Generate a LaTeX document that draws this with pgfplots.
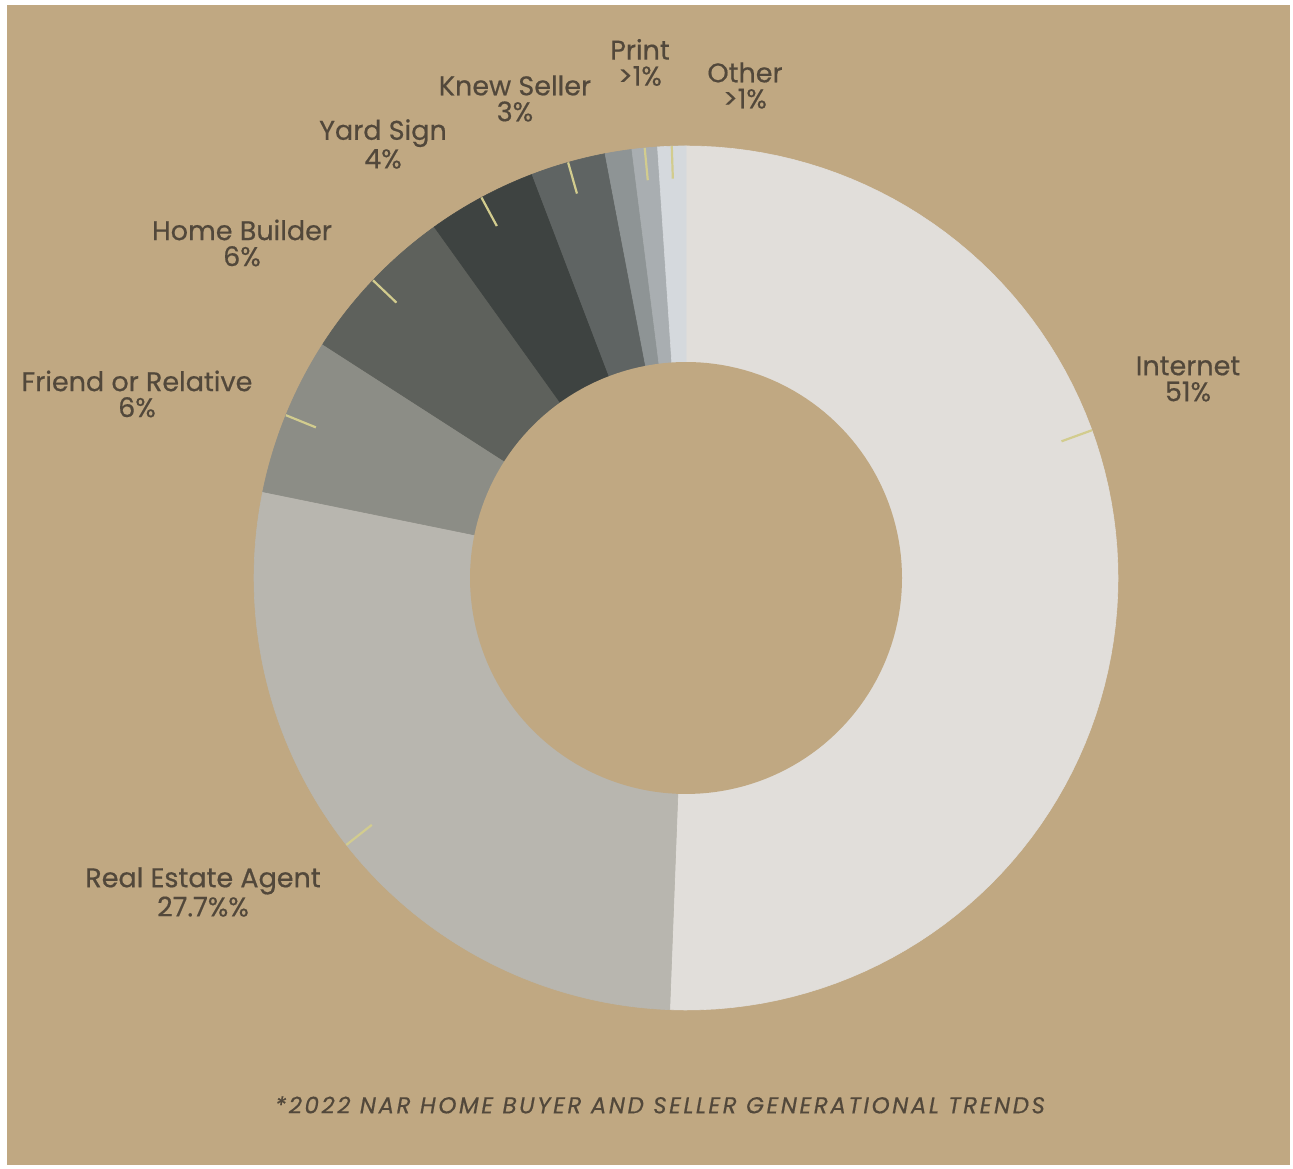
\documentclass[border=0pt]{standalone}
\usepackage{pgfplots}
\pgfplotsset{compat=1.18}
\usepackage{fontspec}
\setmainfont{Poppins}
\newfontfamily\labfont{Poppins}[FakeBold=0.5]
\definecolor{bg}{HTML}{C0A882}
\definecolor{txt}{HTML}{52483B}
\definecolor{tickc}{HTML}{D2CC8E}
\definecolor{c1}{HTML}{E1DEDA}
\definecolor{c2}{HTML}{B8B6AF}
\definecolor{c3}{HTML}{8C8D86}
\definecolor{c4}{HTML}{5E615C}
\definecolor{c5}{HTML}{3E4341}
\definecolor{c6}{HTML}{5F6463}
\definecolor{c7}{HTML}{8E9495}
\definecolor{c8}{HTML}{A9AEB1}
\definecolor{c9}{HTML}{D5D9DD}
% shares (percent), clockwise from the top:
% Internet, Real Estate Agent, Friend or Relative, Home Builder, Yard Sign, Knew Seller, (unlabelled), Print, Other
\def\vals{50.6,27.6,5.9,6.0,4.1,2.8,1.0,0.95,1.05}
\xdef\cum{90}
\foreach \v [count=\i] in \vals {%
  \pgfmathsetmacro\e{\cum-3.6*\v}%
  \pgfmathsetmacro\m{(\cum+\e)/2}%
  \expandafter\xdef\csname s\i\endcsname{\cum}%
  \expandafter\xdef\csname e\i\endcsname{\e}%
  \expandafter\xdef\csname m\i\endcsname{\m}%
  \xdef\cum{\e}%
}
\newcommand\slice[2]{\addplot[fill=#2, draw=#2, line width=0.3pt, domain=\csname e#1\endcsname:\csname s#1\endcsname, samples=90, variable=\t] ({686+432*cos(\t)},{591+432*sin(\t)}) -- (axis cs:686,591) -- cycle;}
\newcommand\tick[1]{\addplot[draw=tickc, line width=1.1pt, domain=0.925:1, samples=2, variable=\r] ({686+432*\r*cos(#1)},{591+432*\r*sin(#1)});}
\tikzset{lab/.style={text=txt, align=center, inner sep=0pt, font=\labfont\fontsize{13.5}{13}\selectfont}}
\begin{document}
\begin{tikzpicture}
\begin{axis}[width=646.5pt, height=584.5pt, scale only axis, hide axis,
  xmin=0, xmax=1293, ymin=0, ymax=1169, clip=false]
\addplot[fill=white, draw=none] coordinates {(0,0) (1293,0) (1293,1169) (0,1169)} -- cycle;
\addplot[fill=bg, draw=none] coordinates {(7,4) (1290,4) (1290,1164) (7,1164)} -- cycle;
\slice{1}{c1}
\slice{2}{c2}
\slice{3}{c3}
\slice{4}{c4}
\slice{5}{c5}
\slice{6}{c6}
\slice{7}{c7}
\slice{8}{c8}
\slice{9}{c9}
\addplot[fill=bg, draw=none, domain=0:360, samples=180, variable=\t] ({686+216*cos(\t)},{591+216*sin(\t)}) -- cycle;
\tick{20}
\tick{\csname m2\endcsname}
\tick{\csname m3\endcsname}
\tick{\csname m4\endcsname}
\tick{\csname m5\endcsname}
\tick{\csname m6\endcsname}
\tick{\csname m8\endcsname}
\tick{\csname m9\endcsname}
\node[lab] at (axis cs:640,1106.5) {Print\\>1\%};
\node[lab] at (axis cs:745,1083.5) {Other\\>1\%};
\node[lab] at (axis cs:515,1070.5) {Knew Seller\\3\%};
\node[lab] at (axis cs:383,1025) {Yard Sign\\4\%};
\node[lab] at (axis cs:242,926) {Home Builder\\6\%};
\node[lab] at (axis cs:137,775) {Friend or Relative\\6\%};
\node[lab] at (axis cs:1188,790) {Internet\\51\%};
\node[lab] at (axis cs:203,277) {Real Estate Agent\\27.7\%\%};
\node[text=txt, inner sep=0pt, font=\fontsize{11.5}{12}\selectfont\itshape\addfontfeatures{LetterSpace=11,FakeBold=0.4}] at (axis cs:660,64) {*2022 NAR HOME BUYER AND SELLER GENERATIONAL TRENDS};
\end{axis}
\end{tikzpicture}
\end{document}
